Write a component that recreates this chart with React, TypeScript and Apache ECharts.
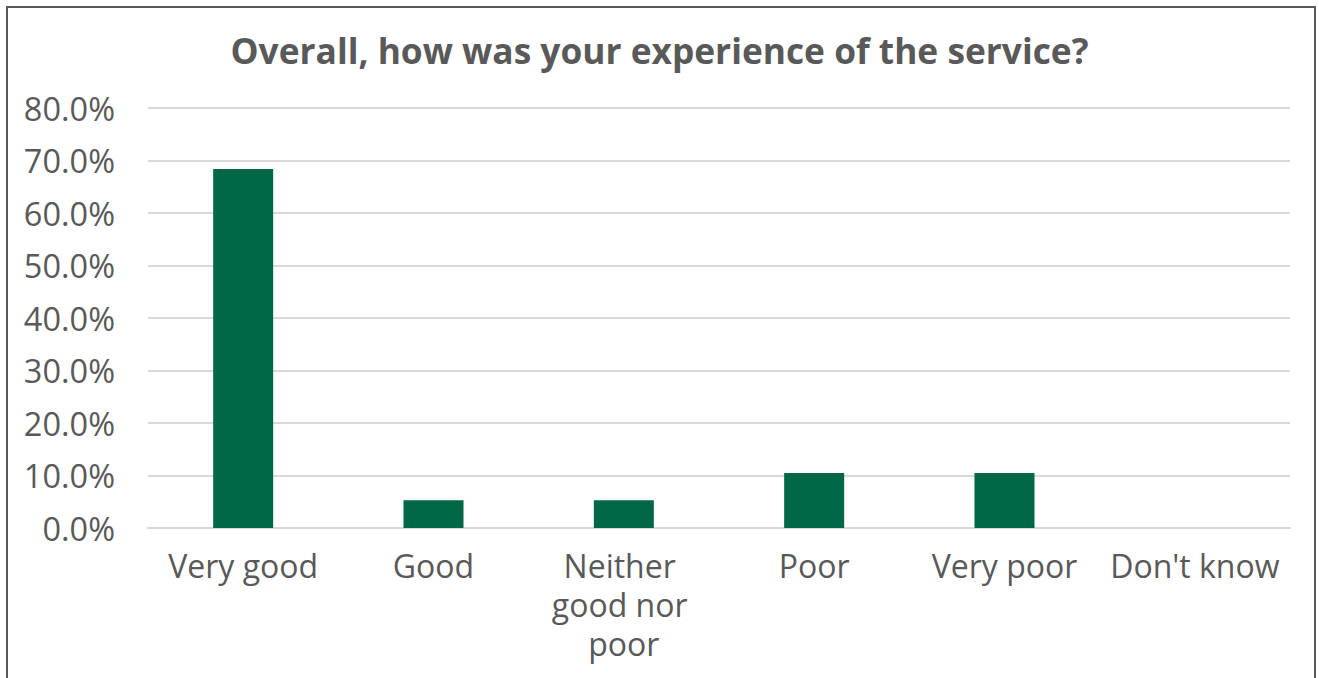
import React, { useEffect, useRef } from "react";
import * as echarts from "echarts";

const titleText = "Overall, how was your experience of the service?";
const categories = ["Very good", "Good", "Neither good nor poor", "Poor", "Very poor", "Don't know"];
const values = [68.4, 5.3, 5.3, 10.5, 10.5, 0];
const yMin = 0;
const yMax = 80;
const yInterval = 10;

export default function App() {
  const ref = useRef<HTMLDivElement>(null);
  useEffect(() => {
    if (!ref.current) return;
    const chart = echarts.init(ref.current, undefined, { renderer: "svg" });
    const font = "'Open Sans', sans-serif";
    chart.setOption({
      animation: false,
      backgroundColor: "#ffffff",
      title: {
        text: titleText,
        left: "center",
        top: 27,
        textStyle: { fontFamily: font, fontSize: 35.3, fontWeight: "bold", color: "#595959" },
      },
      graphic: [
        {
          type: "rect",
          shape: { x: 7, y: 7, width: 1308, height: 720 },
          style: { fill: "none", stroke: "#595959", lineWidth: 2 },
          silent: true,
        },
      ],
      grid: { left: 148, right: 29, top: 108, bottom: 150, containLabel: false },
      xAxis: {
        type: "category",
        data: categories,
        axisTick: { show: false },
        axisLine: { show: true, lineStyle: { color: "#d9d9d9", width: 2 } },
        axisLabel: {
          interval: 0,
          margin: 18,
          fontFamily: font,
          fontSize: 32,
          color: "#595959",
          width: 186,
          overflow: "break",
          lineHeight: 39,
        },
      },
      yAxis: {
        type: "value",
        min: yMin,
        max: yMax,
        interval: yInterval,
        axisLine: { show: false },
        axisTick: { show: false },
        splitLine: { lineStyle: { color: "#d9d9d9", width: 2 } },
        axisLabel: {
          margin: 33,
          fontFamily: font,
          fontSize: 32.5,
          color: "#595959",
          formatter: (v: number) => v.toFixed(1) + "%",
        },
      },
      series: [
        {
          type: "bar",
          data: values,
          barWidth: 60,
          itemStyle: { color: "#006747" },
        },
      ],
    });
    return () => chart.dispose();
  }, []);
  return (
    <div
      ref={ref}
      style={{ position: "fixed", left: 0, top: 0, width: 1319, height: 678 }}
    />
  );
}
